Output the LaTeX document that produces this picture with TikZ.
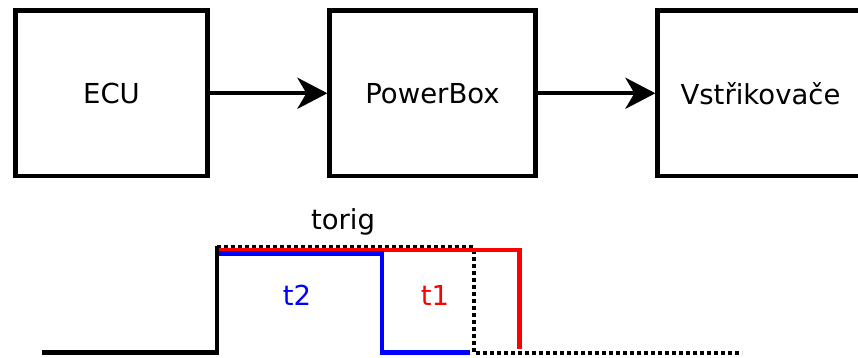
\documentclass[tikz,border=0pt]{standalone}
\usepackage{fontspec}
\setmainfont{DejaVu Sans}
\usetikzlibrary{arrows.meta}
\begin{document}
\begin{tikzpicture}[x=1pt,y=-1pt,
  blockbox/.style={draw=black,line width=4.2pt,fill=white,minimum width=206pt,minimum height=165.5pt,inner sep=0pt},
  flow/.style={line width=4.2pt,-{Stealth[length=30pt,width=31pt,inset=9pt]}},
  lbl/.style={font=\fontsize{27.5}{32}\selectfont,inner sep=0pt},
  sig/.style={line width=4.2pt},
  dotline/.style={line width=4pt,dash pattern=on 3.8pt off 3.2pt}]
\clip (0,0) rectangle (858,357);
\fill[white] (0,0) rectangle (858,357);

% signal chain
\node[blockbox,minimum width=192pt,lbl] (ecu) at (111.5,93.25) {ECU};
\node[blockbox,lbl] (pbox) at (432.5,93.25) {PowerBox};
\node[blockbox,lbl] (inj) at (760.5,93.25) {Vstřikovače};
\draw[flow] (ecu.east) -- (pbox.west);
\draw[flow] (pbox.east) -- (inj.west);

% injection pulse timing
\coordinate (base0) at (42,352.5);
\coordinate (rise) at (217,352.5);
\coordinate (top0) at (217,246);
\draw[sig,line join=miter] (base0) -- (rise) -- (top0);
\draw[dotline] (217,246.5) -- (475,246.5);
\draw[dotline] (473.5,250) -- (473.5,352.5) -- (742,352.5);
\draw[sig,red] (218.5,250) -- (519.5,250) -- (519.5,349);
\draw[sig,blue] (218.5,253.5) -- (382,253.5) -- (382,352.5) -- (470,352.5);

\node[lbl] (torig) at (343,222) {torig};
\node[lbl,text=blue] (tb) at (297,295) {t2};
\node[lbl,text=red] (tr) at (435,295) {t1};
\end{tikzpicture}
\end{document}
